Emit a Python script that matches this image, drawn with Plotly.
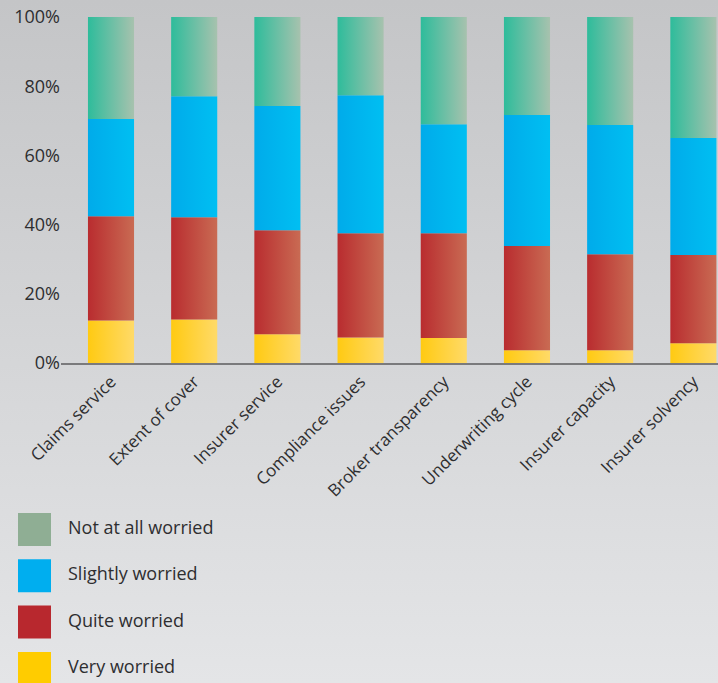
import base64
import numpy as np
import plotly.graph_objects as go

# Survey: how worried are respondents about each issue (share of answers, %)
categories = [
    "Claims service", "Extent of cover", "Insurer service", "Compliance issues",
    "Broker transparency", "Underwriting cycle", "Insurer capacity", "Insurer solvency",
]
very_worried = [12.3, 12.6, 8.3, 7.4, 7.2, 3.7, 3.7, 5.7]
quite_worried = [30.1, 29.5, 30.1, 30.1, 30.3, 30.1, 27.7, 25.5]
slightly_worried = [28.1, 35.0, 35.9, 39.9, 31.5, 37.9, 37.4, 33.8]
not_worried = [29.5, 22.9, 25.7, 22.6, 31.0, 28.3, 31.2, 35.0]

y_ticks = [0, 20, 40, 60, 80, 100]
y_tick_labels = ["0%", "20%", "40%", "60%", "80%", "100%"]

# Stack order bottom -> top, with (legend colour, gradient left, gradient right)
series = [
    ("Very worried", very_worried, "#ffcc00", "#ffca12", "#ffda68"),
    ("Quite worried", quite_worried, "#b8282e", "#b92c2f", "#c96b53"),
    ("Slightly worried", slightly_worried, "#00aeef", "#00abea", "#00bff2"),
    ("Not at all worried", not_worried, "#8fae94", "#2ebc9b", "#a7c2ae"),
]

W, H = 718, 683
ML, MT, MB = 61, 17, 320
plot_w = W - ML
plot_h = H - MT - MB

bar_half = 0.277
x_idx = np.arange(len(categories))

fig = go.Figure()
base = np.zeros(len(categories))
for name, vals, _, c_left, c_right in series:
    vals = np.asarray(vals, dtype=float)
    top = base + vals
    for i in x_idx:
        x0, x1 = i - bar_half, i + bar_half
        fig.add_trace(go.Scatter(
            x=[x0, x1, x1, x0, x0],
            y=[base[i], base[i], top[i], top[i], base[i]],
            mode="lines",
            line=dict(width=0),
            fill="toself",
            fillgradient=dict(type="horizontal",
                              colorscale=[[0, c_left], [1, c_right]]),
            name=name,
            showlegend=False,
            hovertemplate=f"{categories[i]}<br>{name}: {vals[i]:.1f}%<extra></extra>",
        ))
    base = top

# Soft vertical grey gradient behind everything
svg = (
    f'<svg xmlns="http://www.w3.org/2000/svg" width="{W}" height="{H}" preserveAspectRatio="none">'
    '<defs><linearGradient id="g" x1="0" y1="0" x2="0" y2="1">'
    '<stop offset="0" stop-color="#c4c5c7"/><stop offset="1" stop-color="#e4e5e7"/>'
    '</linearGradient></defs>'
    f'<rect width="{W}" height="{H}" fill="url(#g)"/></svg>'
)
bg_src = "data:image/svg+xml;base64," + base64.b64encode(svg.encode()).decode()

def px_x(px):
    return (px - ML) / plot_w

def px_y(py):
    return (H - MB - py) / plot_h

images = [dict(
    source=bg_src, xref="paper", yref="paper",
    x=px_x(0), y=px_y(0), sizex=W / plot_w, sizey=H / plot_h,
    xanchor="left", yanchor="top", sizing="stretch", layer="below",
)]

# Legend drawn as large swatches with labels, top to bottom
shapes, annotations = [], []
legend_rows = list(reversed(series))
for k, (name, _, swatch, _, _) in enumerate(legend_rows):
    top_px = 513 + k * 46.3
    shapes.append(dict(
        type="rect", xref="paper", yref="paper",
        x0=px_x(18), x1=px_x(51), y0=px_y(top_px + 33), y1=px_y(top_px),
        fillcolor=swatch, line=dict(width=0),
    ))
    annotations.append(dict(
        text=name, xref="paper", yref="paper",
        x=px_x(66), y=px_y(top_px + 14), xanchor="left", yanchor="middle",
        showarrow=False, font=dict(family="Open Sans", size=18, color="#2e2e30"),
    ))

fig.update_layout(
    width=W, height=H,
    margin=dict(l=ML, r=0, t=MT, b=MB, pad=0),
    paper_bgcolor="#d6d7d9",
    plot_bgcolor="rgba(0,0,0,0)",
    images=images,
    shapes=shapes,
    annotations=annotations,
    showlegend=False,
    font=dict(family="Open Sans", color="#2e2e30"),
    xaxis=dict(
        range=[-0.601, 7.296],
        tickmode="array", tickvals=list(x_idx), ticktext=categories,
        tickangle=-45, tickfont=dict(size=17, color="#2e2e30"),
        showgrid=False, zeroline=False, ticks="",
        showline=True, linecolor="#7a7a7c", linewidth=2,
        layer="below traces", fixedrange=True,
    ),
    yaxis=dict(
        range=[0, 100],
        tickmode="array", tickvals=y_ticks, ticktext=y_tick_labels,
        tickfont=dict(size=18, color="#2e2e30"),
        showgrid=False, zeroline=False, ticks="", showline=False,
        fixedrange=True,
    ),
)

fig.write_html("out.html")
